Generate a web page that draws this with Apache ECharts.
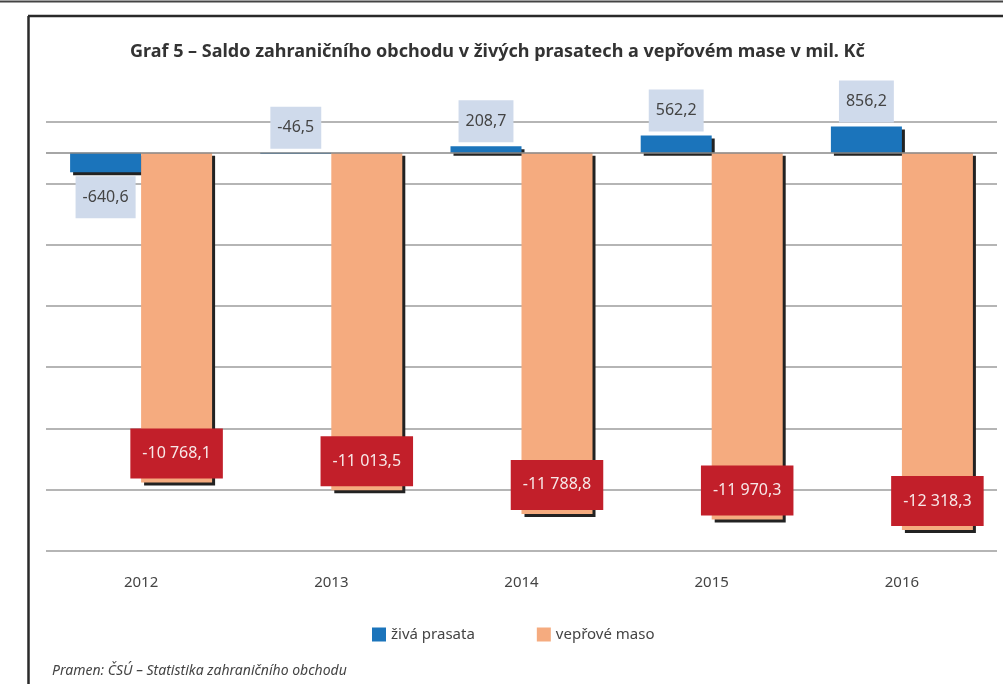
<!DOCTYPE html>
<html>
<head>
<meta charset="utf-8">
<script src="https://cdn.jsdelivr.net/npm/echarts@6/dist/echarts.min.js"></script>
<style>
  html, body { margin: 0; padding: 0; background: #fff; }
  #main { width: 1003px; height: 684px; }
</style>
</head>
<body>
<div id="main"></div>
<script>
// data
var roky = ['2012', '2013', '2014', '2015', '2016'];
var zivaPrasata = [-640.6, -46.5, 208.7, 562.2, 856.2];
var veprMaso = [-10768.1, -11013.5, -11788.8, -11970.3, -12318.3];
var nazvySerii = ['živá prasata', 'vepřové maso'];

// cislo v ceskem formatu: -10 768,1
function fmtCz(v) {
  var parts = Math.abs(v).toFixed(1).split('.');
  var cele = parts[0].replace(/\B(?=(\d{3})+(?!\d))/g, ' ');
  return (v < 0 ? '-' : '') + cele + ',' + parts[1];
}

var myChart = echarts.init(document.getElementById('main'));

var option = {
  animation: false,
  textStyle: { fontFamily: 'Noto Sans' },
  title: {
    text: 'Graf 5 – Saldo zahraničního obchodu v živých prasatech a vepřovém mase v mil. Kč',
    left: 125,
    top: 38,
    textStyle: { fontSize: 18, fontWeight: 'bold', color: '#333' }
  },
  legend: {
    data: nazvySerii,
    left: 367,
    top: 622,
    icon: 'rect',
    itemWidth: 14,
    itemHeight: 14,
    itemGap: 62,
    textStyle: { fontSize: 15, color: '#444' }
  },
  grid: { left: 46, right: 6, top: 122, bottom: 133 },
  xAxis: {
    type: 'category',
    data: roky,
    axisLine: { show: false },
    axisTick: { show: false },
    axisLabel: { fontSize: 15, color: '#444', margin: 24 }
  },
  yAxis: [
    {
      type: 'value',
      min: -13000,
      max: 1000,
      show: false,
      splitLine: { show: false }
    },
    {
      // jen pro mrizku: 0..14000 odpovida -13000..1000
      type: 'value',
      min: 0,
      max: 14000,
      interval: 2000,
      axisLabel: { show: false },
      axisLine: { show: false },
      axisTick: { show: false },
      splitLine: { lineStyle: { color: '#9c9c9c', width: 1.5 } }
    }
  ],
  series: [
    {
      name: nazvySerii[0],
      type: 'bar',
      yAxisIndex: 0,
      barWidth: 71,
      barGap: '0%',
      itemStyle: {
        color: '#1b74bb',
        shadowColor: '#222',
        shadowOffsetX: 3,
        shadowOffsetY: 3,
        shadowBlur: 0
      },
      label: {
        show: true,
        position: 'top',
        distance: 4,
        formatter: function (p) { return fmtCz(p.value); },
        backgroundColor: '#cfdaeb',
        color: '#444',
        fontSize: 16,
        lineHeight: 18,
        padding: [12, 7]
      },
      data: zivaPrasata.map(function (v) {
        var item = { value: v, label: { position: v < -100 ? 'bottom' : 'top' } };
        // skoro nulovy sloupec nema viditelny stin
        if (Math.abs(v) < 100) item.itemStyle = { shadowColor: 'transparent' };
        return item;
      }),
      markLine: {
        silent: true,
        z: 10,
        symbol: 'none',
        label: { show: false },
        lineStyle: { color: '#888', width: 1.5, type: 'solid' },
        data: [{ yAxis: 0 }]
      }
    },
    {
      name: nazvySerii[1],
      type: 'bar',
      yAxisIndex: 0,
      barWidth: 71,
      barGap: '0%',
      itemStyle: {
        color: '#f5ab7f',
        shadowColor: '#222',
        shadowOffsetX: 3,
        shadowOffsetY: 3,
        shadowBlur: 0
      },
      label: {
        show: true,
        position: 'insideBottom',
        distance: 4,
        formatter: function (p) { return fmtCz(p.value); },
        backgroundColor: '#c21f2a',
        color: '#f7e8e8',
        fontSize: 16,
        lineHeight: 18,
        padding: [16, 12]
      },
      data: veprMaso
    }
  ],
  graphic: [
    { type: 'line', shape: { x1: 0, y1: 1.5, x2: 1003, y2: 1.5 }, style: { stroke: '#444', lineWidth: 2 }, silent: true },
    { type: 'line', shape: { x1: 28, y1: 16, x2: 1003, y2: 16 }, style: { stroke: '#2a2a2a', lineWidth: 2.5 }, silent: true },
    { type: 'line', shape: { x1: 28.5, y1: 16, x2: 28.5, y2: 684 }, style: { stroke: '#2a2a2a', lineWidth: 2.5 }, silent: true },
    {
      type: 'text',
      left: 52,
      top: 664,
      style: {
        text: 'Pramen: ČSÚ – Statistika zahraničního obchodu',
        font: 'italic 14px "Noto Sans"',
        fill: '#444'
      },
      silent: true
    }
  ]
};

myChart.setOption(option);
</script>
</body>
</html>
